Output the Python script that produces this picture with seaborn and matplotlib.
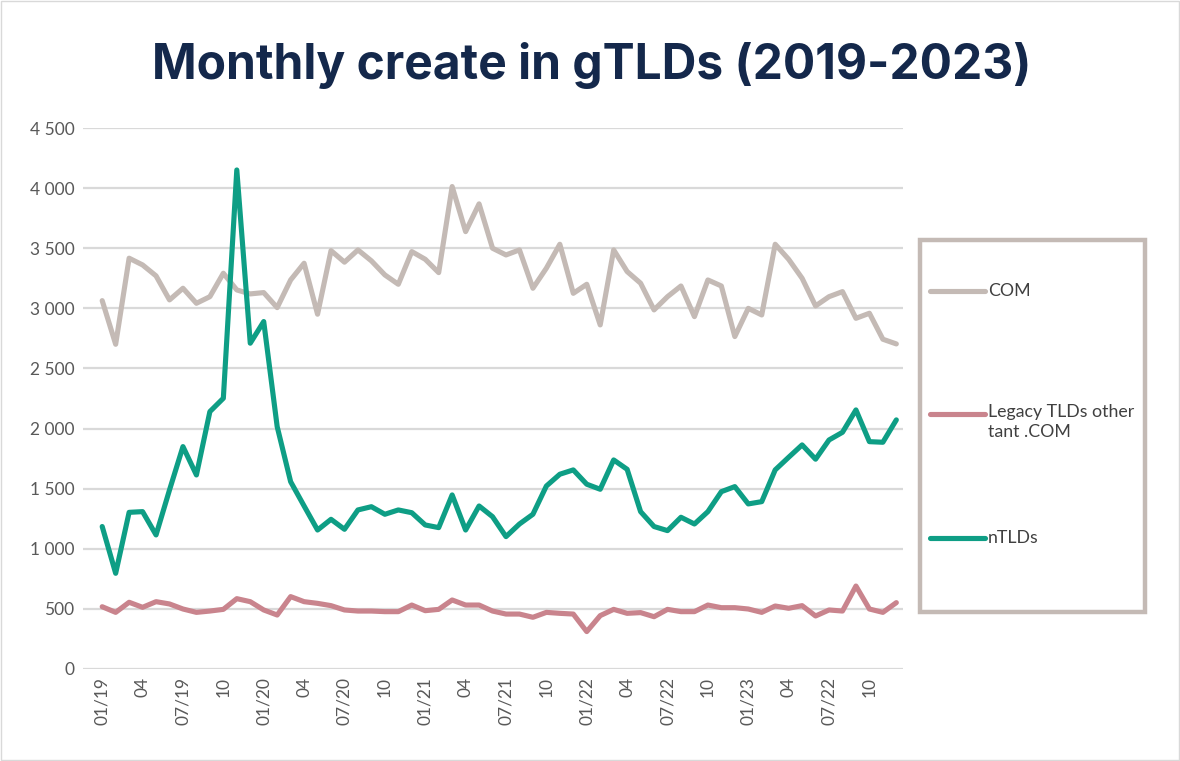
import numpy as np
import pandas as pd
import matplotlib
matplotlib.use("Agg")
import matplotlib.pyplot as plt
from matplotlib.lines import Line2D
from matplotlib.patches import Rectangle
import seaborn as sns

# ---- data ----
months = list(range(60))  # 01/2019 .. 12/2023
tick_labels = ["01/19", "04", "07/19", "10", "01/20", "04", "07/20", "10",
               "01/21", "04", "07/21", "10", "01/22", "04", "07/22", "10",
               "01/23", "04", "07/22", "10"]
series_names = ["COM", "Legacy TLDs other\ntant .COM", "nTLDs"]

com = [3064, 2701, 3417, 3361, 3270, 3070, 3167, 3042, 3097, 3292,
       3153, 3120, 3131, 3006, 3236, 3375, 2951, 3480, 3384, 3486,
       3395, 3278, 3200, 3472, 3408, 3297, 4013, 3638, 3869, 3500,
       3444, 3486, 3167, 3334, 3533, 3125, 3200, 2862, 3486, 3306,
       3209, 2987, 3097, 3186, 2931, 3236, 3186, 2765, 3000, 2945,
       3533, 3408, 3250, 3020, 3097, 3139, 2917, 2959, 2743, 2704]
legacy = [518, 471, 555, 513, 560, 541, 499, 471, 482, 496,
          585, 560, 491, 449, 602, 560, 546, 527, 491, 482,
          482, 477, 477, 532, 485, 496, 574, 532, 532, 482,
          457, 457, 430, 471, 463, 457, 311, 444, 496, 463,
          469, 435, 496, 477, 477, 532, 510, 510, 499, 471,
          524, 505, 527, 441, 491, 482, 690, 499, 471, 552]
ntlds = [1185, 796, 1303, 1309, 1115, 1489, 1850, 1614, 2141, 2252,
         4151, 2710, 2890, 2016, 1558, 1356, 1156, 1245, 1162, 1323,
         1350, 1287, 1323, 1300, 1198, 1176, 1448, 1156, 1356, 1267,
         1101, 1206, 1287, 1522, 1620, 1656, 1537, 1495, 1739, 1661,
         1309, 1185, 1151, 1262, 1206, 1309, 1475, 1517, 1373, 1392,
         1656, 1761, 1864, 1745, 1905, 1969, 2155, 1891, 1886, 2072]

colors = ["#c4bab5", "#c9848d", "#0e9e85"]

df = pd.DataFrame({
    "month": months * 3,
    "value": com + legacy + ntlds,
    "series": [series_names[0]] * 60 + [series_names[1]] * 60 + [series_names[2]] * 60,
})

sns.set_theme(style="white")
plt.rcParams["font.family"] = ["Lato", "DejaVu Sans"]

fig = plt.figure(figsize=(11.8, 7.61), dpi=100)
ax = fig.add_axes([0.0703, 0.1209, 0.695, 0.7109])

sns.lineplot(data=df, x="month", y="value", hue="series",
             palette=dict(zip(series_names, colors)), linewidth=3.7,
             ax=ax, legend=False, sort=False)

ax.set_xlim(-1.43, 59.5)
ax.set_ylim(0, 4500)
yt = np.arange(0, 4501, 500)
ax.set_yticks(yt)
ax.set_yticklabels([f"{v:,}".replace(",", " ") for v in yt],
                   fontsize=12.5, color="#595959")
ax.set_xticks(np.arange(0, 60, 3))
ax.set_xticklabels(tick_labels, rotation=90, fontsize=12.5, color="#595959")
ax.tick_params(axis="both", length=0, pad=6)
ax.yaxis.grid(True, color="#d9d9d9", linewidth=1.6)
ax.set_axisbelow(True)
for s in ax.spines.values():
    s.set_visible(False)
ax.set_xlabel("")
ax.set_ylabel("")

# title
fig.text(0.5015, 0.914, "Monthly create in gTLDs (2019-2023)",
         ha="center", va="center", fontsize=34.5, fontweight="bold",
         color="#14284b", family=["Inter", "DejaVu Sans"])

# legend box
W, H = 1180.0, 761.0
fig.add_artist(Rectangle((920 / W, 1 - 612 / H), 225 / W, 372 / H,
                         transform=fig.transFigure, fill=False,
                         edgecolor="#c4bab5", linewidth=3.2))
leg_y = [291, 414, 538]
for name, col, yy in zip(series_names, colors, leg_y):
    fy = 1 - yy / H
    fig.add_artist(Line2D([930 / W, 985 / W], [fy, fy], transform=fig.transFigure,
                          color=col, linewidth=3.7, solid_capstyle="round"))
    if "\n" in name:
        fig.text(988 / W, fy + 10 / H, name, ha="left", va="top",
                 fontsize=12.8, color="#404040", linespacing=1.3)
    else:
        fig.text(988 / W, fy, name, ha="left", va="center",
                 fontsize=12.8, color="#404040")

# outer frame
fig.add_artist(Rectangle((0.001, 0.001), 0.998, 0.998, transform=fig.transFigure,
                         fill=False, edgecolor="#d9d9d9", linewidth=1.0))

fig.savefig("out.png", dpi=100)
